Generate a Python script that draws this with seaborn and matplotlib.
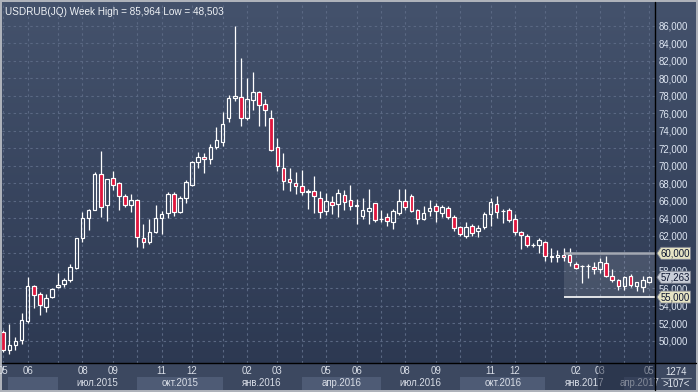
import numpy as np
import matplotlib
matplotlib.use("Agg")
import matplotlib.pyplot as plt
import seaborn as sns
from matplotlib.patches import Rectangle, Polygon
from matplotlib.lines import Line2D
from matplotlib.transforms import blended_transform_factory, IdentityTransform

# ---------------- data (weekly USDRUB candles) ----------------
opens = [51.0, 48.9, 49.5, 50.1, 52.3, 56.3, 55.4, 53.9, 55.0, 56.2,
         56.45, 56.9, 58.3, 61.7, 64.0, 65.0, 69.1, 65.5, 68.55, 68.0,
         66.5, 65.55, 66.05, 61.7, 61.25, 62.4, 64.0, 64.55, 66.8, 64.75,
         66.35, 67.85, 70.4, 70.95, 70.75, 72.2, 72.7, 75.5, 77.8, 77.9,
         75.5, 77.5, 78.4, 77.05, 75.45, 72.1, 69.7, 68.45, 68.0, 67.7,
         67.05, 67.1, 66.3, 64.8, 65.85, 65.6, 66.65, 66.05, 65.4, 64.3,
         64.8, 65.7, 63.9, 64.15, 63.55, 64.6, 66.0, 66.5, 64.95, 63.9,
         64.85, 65.4, 64.55, 65.2, 64.1, 62.95, 62.0, 63.1, 62.5, 63.05,
         64.45, 65.6, 64.8, 64.9, 63.9, 62.4, 61.95, 60.95, 60.9, 61.25,
         59.6, 59.55, 59.75, 59.8, 58.8, 58.5, 58.5, 58.45, 58.15, 58.85,
         57.35, 56.9, 56.25, 57.35, 56.25, 56.1, 56.75]
highs = [51.2, 51.9, 50.4, 53.2, 57.3, 56.4, 55.6, 55.3, 56.0, 57.7,
         57.2, 58.8, 61.8, 64.7, 65.1, 69.3, 71.7, 68.5, 69.4, 68.1,
         66.8, 66.8, 66.2, 63.35, 63.9, 65.5, 64.85, 67.0, 67.0, 66.6,
         68.4, 70.5, 71.55, 71.45, 72.45, 74.4, 76.1, 78.05, 85.964, 82.3,
         80.0, 80.7, 78.55, 77.6, 76.4, 73.15, 71.45, 69.7, 69.3, 69.5,
         67.4, 68.85, 67.1, 66.9, 66.6, 67.35, 67.25, 67.8, 66.15, 66.3,
         67.35, 65.8, 64.9, 64.65, 65.1, 67.3, 67.3, 66.8, 65.1, 65.4,
         66.05, 65.7, 65.5, 65.35, 64.35, 63.1, 63.55, 63.3, 63.25, 64.7,
         66.3, 66.5, 65.05, 65.15, 64.45, 62.55, 62.15, 61.2, 61.8, 61.35,
         60.55, 60.4, 60.55, 60.65, 58.95, 58.65, 58.75, 58.95, 59.45, 59.65,
         58.15, 57.05, 57.45, 57.6, 56.75, 57.35, 57.35]
lows = [48.7, 48.503, 48.9, 49.6, 52.0, 53.7, 53.0, 53.3, 54.9, 56.0,
        56.15, 56.7, 58.25, 61.3, 62.7, 64.9, 64.1, 63.7, 67.2, 64.9,
        65.3, 64.75, 60.75, 60.65, 61.1, 62.3, 62.2, 64.05, 64.3, 64.65,
        65.7, 67.7, 69.7, 69.2, 70.25, 71.9, 72.3, 75.05, 77.4, 74.6,
        75.25, 76.4, 74.55, 74.5, 71.7, 69.45, 67.25, 67.15, 66.75, 66.7,
        65.1, 64.65, 64.0, 64.4, 64.5, 64.2, 64.9, 64.9, 63.4, 63.9,
        63.3, 63.6, 63.55, 63.1, 62.75, 64.4, 65.0, 64.75, 63.4, 63.8,
        64.3, 63.55, 64.15, 63.9, 62.5, 61.95, 61.8, 62.0, 61.9, 62.8,
        63.15, 64.0, 63.45, 63.6, 62.1, 60.45, 60.7, 60.7, 60.05, 59.1,
        59.05, 59.0, 59.1, 58.55, 58.2, 56.55, 57.2, 57.6, 57.75, 57.3,
        56.75, 55.85, 55.85, 56.15, 55.7, 55.6, 56.55]
closes = [49.0, 49.5, 50.0, 52.4, 56.3, 55.2, 54.1, 54.9, 55.9, 56.35,
          56.9, 58.45, 61.7, 64.0, 65.0, 69.05, 65.25, 68.45, 67.85, 66.5,
          65.5, 66.05, 61.85, 61.25, 62.4, 64.0, 64.5, 66.8, 64.75, 66.35,
          68.1, 70.4, 70.95, 70.75, 72.2, 73.0, 74.8, 77.7, 78.0, 75.45,
          77.6, 78.4, 77.0, 76.35, 71.85, 70.0, 68.3, 68.2, 67.65, 67.05,
          67.15, 66.5, 64.75, 65.95, 65.5, 66.85, 65.9, 65.35, 65.5, 64.95,
          65.2, 63.8, 63.95, 63.7, 64.8, 66.0, 65.25, 64.85, 63.9, 64.55,
          65.2, 64.85, 65.25, 64.1, 62.85, 62.25, 63.0, 62.35, 62.9, 64.5,
          65.85, 64.75, 64.85, 63.75, 62.4, 62.1, 61.0, 61.0, 61.5, 59.65,
          59.65, 59.75, 59.55, 58.95, 58.3, 58.6, 58.6, 58.2, 58.95, 57.35,
          56.9, 56.25, 57.3, 56.35, 56.7, 56.95, 57.263]

month_idx = [0, 4, 9, 13, 18, 22, 26, 31, 36, 40, 45, 49, 53, 58, 62, 66,
             71, 75, 80, 84, 89, 94, 98, 102, 106]
month_lbl = ["05", "06", "", "08", "09", "", "11", "12", "", "02", "03", "",
             "05", "06", "", "08", "09", "", "11", "12", "", "02", "03", "", "05"]
quarter_start = [0.8, 9, 22, 36, 49, 62, 75, 89, 102]
quarter_lbl = ["", "июл.2015", "окт.2015", "янв.2016", "апр.2016",
               "июл.2016", "окт.2016", "янв.2017", "апр.2017"]
y_ticks = list(range(50, 87, 2))
title = "USDRUB(JQ) Week High = 85,964 Low = 48,503"
range_hi, range_lo, range_start = 60.0, 55.0, 92
last_price = 57.263
corner_top, corner_bottom = "1274", ">107<"

# ---------------- style ----------------
sns.set_theme(style="dark")
plt.rcParams["font.family"] = ["Liberation Sans", "DejaVu Sans"]

W, H, DPI = 698, 392, 100
fig = plt.figure(figsize=(W / DPI, H / DPI), dpi=DPI, facecolor="#aeb2ba")

def fx(x):
    return x / W

def fy(y):
    return 1 - y / H

# background gradient
bg = fig.add_axes([fx(2), fy(390), fx(694), 388 / H], zorder=-2)
top_c = np.array([0x44, 0x52, 0x6c]) / 255
bot_c = np.array([0x2b, 0x37, 0x50]) / 255
t = np.linspace(0, 1, 256)[:, None]
grad = top_c[None, :] * (1 - t)[:, :, None][:, 0, :] if False else None
img = (top_c[None, None, :] * (1 - t[:, :, None]) + bot_c[None, None, :] * t[:, :, None])
bg.imshow(img, aspect="auto", extent=[0, 694, 388, 0], interpolation="bilinear")
bg.set_xlim(0, 694)
bg.set_ylim(388, 0)
bg.add_patch(Rectangle((0, 361), 694, 27, facecolor="#3c4860", edgecolor="none"))
bg.axis("off")

# main axes
ax = fig.add_axes([fx(2), fy(363), fx(653), 361 / H], zorder=0)
ax.set_facecolor("none")
step, x0 = 6.09, 3.3
xmin, xmax = (2 - x0) / step, (655 - x0) / step
ymin = 60 + (253.3 - 363) / 8.75
ymax = 60 + (253.3 - 2) / 8.75
ax.set_xlim(xmin, xmax)
ax.set_ylim(ymin, ymax)

grid_c = "#5a6883"
ax.hlines(y_ticks, xmin, xmax, colors=grid_c, linestyles=(0, (2.2, 2.8)), lw=0.8, zorder=1)
ax.vlines(month_idx, ymin, ymax, colors=grid_c, linestyles=(0, (2.2, 2.8)), lw=0.8, zorder=1)

# range box
ax.add_patch(Rectangle((range_start, range_lo), xmax - range_start, range_hi - range_lo,
                       facecolor="white", alpha=0.11, edgecolor="none", zorder=1.5))
ax.hlines(range_hi, range_start, xmax, colors="#a3a8b2", lw=1.8, zorder=4)
ax.hlines(range_lo, range_start, xmax, colors="white", lw=1.2, zorder=4)

# candles
idx = np.arange(len(opens))
o = np.array(opens); c = np.array(closes); h = np.array(highs); l = np.array(lows)
btop = np.maximum(o, c); bbot = np.minimum(o, c)
ax.vlines(idx, btop, h, colors="white", lw=0.9, zorder=2)
ax.vlines(idx, l, bbot, colors="white", lw=0.9, zorder=2)
heights = np.maximum(btop - bbot, 0.03)
face = ["none" if cc >= oo else "#e0163e" for oo, cc in zip(o, c)]
ax.bar(idx, heights, bottom=bbot, width=0.6, color=face, edgecolor="white", lw=0.85, zorder=3)

for s in ["top", "left", "right", "bottom"]:
    ax.spines[s].set_visible(False)

ax.yaxis.tick_right()
ax.set_yticks(y_ticks)
ax.set_yticklabels([f"{v:.3f}".replace(".", ",") for v in y_ticks])
ax.tick_params(axis="y", length=0, pad=2.3, labelsize=6.9, labelcolor="#dfe7f3")
ax.set_xticks([])
ax.grid(False)

ax.text(0.004, 0.985, title, transform=ax.transAxes, ha="left", va="top",
        fontsize=7.2, color="#eef1f5", zorder=6)

# bottom axis strip
tb = blended_transform_factory(ax.transData, ax.transAxes)
ah = 361.0
clip = Rectangle((fx(3), fy(390)), fx(652), 27 / H, transform=fig.transFigure)
for k, qs in enumerate(quarter_start):
    qe = quarter_start[k + 1] if k + 1 < len(quarter_start) else xmax
    qe = min(qe, xmax)
    if k % 2 == 0:
        ax.add_patch(Rectangle((qs, -(390 - 363) / ah), qe - qs, (390 - 376.7) / ah,
                               transform=tb, facecolor="#4e5b75", edgecolor="none",
                               clip_on=False, zorder=1))
    if quarter_lbl[k]:
        tx = ax.text((qs + qe) / 2, -(383.5 - 363) / ah, quarter_lbl[k], transform=tb,
                     ha="center", va="center", fontsize=6.9, color="#d9dee7")
        tx.set_clip_path(clip)
for mi, ml in zip(month_idx, month_lbl):
    if ml:
        tx = ax.text(mi, -(371.5 - 363) / ah, ml, transform=tb, ha="center", va="center",
                     fontsize=6.9, color="#d9dee7")
        tx.set_clip_path(clip)
ax.add_patch(Rectangle((97.6, -(390 - 363) / ah), xmax - 97.6, 27 / ah, transform=tb,
                       facecolor="#1a233a", alpha=0.45, edgecolor="none", clip_on=False, zorder=7))

# frame lines
fig.add_artist(Line2D([fx(655), fx(655)], [fy(2), fy(390)], color="black", lw=1.0,
                      transform=fig.transFigure))
fig.add_artist(Line2D([fx(2), fx(696)], [fy(363), fy(363)], color="black", lw=1.0,
                      transform=fig.transFigure))

# corner box
fig.text(fx(676), fy(372), corner_top, ha="center", va="center", fontsize=6.9, color="#e3e8f0")
fig.text(fx(676), fy(384), corner_bottom, ha="center", va="center", fontsize=6.9, color="#e3e8f0")
fig.add_artist(Line2D([fx(661), fx(691)], [fy(377.5), fy(377.5)], color="#8f98a8", lw=0.8,
                      transform=fig.transFigure))

# price tags on the right axis
def tag(value, fc):
    _, yd = ax.transData.transform((0, value))
    x_tip, x_sh, x_end, hh = 657.0, 661.0, 690.5, 6.0
    pts = [(x_tip, yd), (x_sh, yd + hh), (x_end, yd + hh), (x_end, yd - hh), (x_sh, yd - hh)]
    fig.add_artist(Polygon(pts, closed=True, facecolor=fc, edgecolor="#7d8290", lw=0.6,
                           transform=IdentityTransform(), zorder=5))
    t_ = fig.text(fx(675), yd / H, f"{value:.3f}".replace(".", ","), ha="center",
                  va="center", fontsize=6.9, color="#0c1530", zorder=6)

tag(range_hi, "#e6e4c4")
tag(last_price, "#c9ced8")
tag(range_lo, "#e6e4c4")

fig.savefig("out.png", dpi=DPI, facecolor=fig.get_facecolor())
